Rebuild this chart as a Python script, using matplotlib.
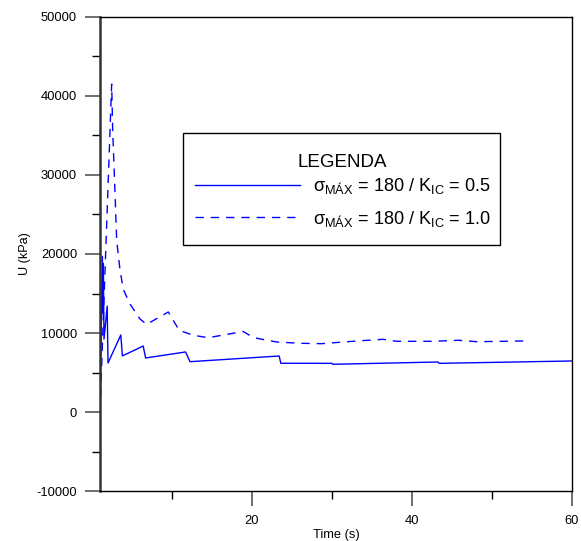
import matplotlib
matplotlib.use("Agg")
import matplotlib.pyplot as plt
from matplotlib.patches import Rectangle
from matplotlib.ticker import MultipleLocator, FixedLocator

plt.rcParams["font.family"] = ["Liberation Sans", "DejaVu Sans"]
plt.rcParams["mathtext.fontset"] = "custom"
plt.rcParams["mathtext.rm"] = "Liberation Sans"
plt.rcParams["mathtext.default"] = "regular"
plt.rcParams["axes.unicode_minus"] = False

# sigma_max = 180 / K_IC = 0.5
t_05 = [1.0, 1.3, 1.38, 1.42, 1.5, 1.9, 2.0, 3.6, 3.8, 6.4, 6.7, 11.7, 12.25,
        23.4, 23.6, 30.0, 30.1, 43.25, 43.4, 60.0]
u_05 = [0, 19700, 12500, 18800, 9240, 13400, 6200, 9750, 7100, 8350, 6840,
        7600, 6370, 7090, 6170, 6160, 6040, 6330, 6160, 6460]

# sigma_max = 180 / K_IC = 1.0
t_10 = [1.0, 2.46, 2.59, 2.88, 3.09, 3.5, 3.91, 4.75, 6.0, 6.84, 9.54, 10.9,
        12.66, 14.54, 18.9, 20.2, 23.1, 26.0, 28.7, 33.1, 36.4, 38.1, 42.7,
        45.8, 48.1, 53.9]
u_10 = [0, 41500, 35600, 27600, 21650, 18000, 15530, 13670, 11770, 11100,
        12660, 10340, 9710, 9410, 10190, 9410, 8860, 8700, 8650, 8990, 9200,
        8950, 8950, 9080, 8900, 8990]

labels = [r"σ$_{MÁX}$ = 180 / K$_{IC}$ = 0.5",
          r"σ$_{MÁX}$ = 180 / K$_{IC}$ = 1.0"]

fig = plt.figure(figsize=(5.81, 5.41), dpi=100)
ax = fig.add_axes([0.1721, 0.0924, 0.8124, 0.8762])

ax.plot(t_05, u_05, color="blue", linewidth=1.0, label=labels[0])
ax.plot(t_10, u_10, color="blue", linewidth=1.0, dashes=(6, 5), label=labels[1])

ax.set_xlim(1, 60)
ax.set_ylim(-10000, 50000)
ax.xaxis.set_major_locator(FixedLocator([20, 40, 60]))
ax.xaxis.set_minor_locator(FixedLocator([10, 30, 50]))
ax.yaxis.set_major_locator(MultipleLocator(10000))
ax.yaxis.set_minor_locator(MultipleLocator(5000))

ax.tick_params(axis="both", which="major", direction="out", length=10.5,
               width=1.2, color="#555555", labelsize=9.3, pad=6)
ax.tick_params(axis="both", which="minor", direction="out", length=5.5,
               width=1.0, color="black")
ax.tick_params(axis="x", which="major", pad=7)

for side in ["top", "right", "bottom"]:
    ax.spines[side].set_linewidth(1.0)
    ax.spines[side].set_color("black")
ax.spines["left"].set_linewidth(1.8)
ax.spines["left"].set_color("#333333")

ax.set_xlabel("Time (s)", fontsize=9.3, labelpad=1)
ax.set_ylabel("U (kPa)", fontsize=9.1, labelpad=4)

# legend: frame, title and entries
ax.add_patch(Rectangle((0.1758, 0.519), 0.6717, 0.236, transform=ax.transAxes,
                       facecolor="white", edgecolor="black", linewidth=1.0,
                       zorder=4))
ax.text(0.5127, 0.694, "LEGENDA", transform=ax.transAxes, fontsize=13.5,
        ha="center", va="center", zorder=5)
leg = ax.legend(loc="center left", bbox_to_anchor=(0.2013, 0.6087),
                fontsize=13.1, frameon=False, handlelength=5.77,
                handletextpad=0.71, borderpad=0, labelspacing=0.68,
                borderaxespad=0)
leg.set_zorder(6)

fig.savefig("out.png", dpi=100)
